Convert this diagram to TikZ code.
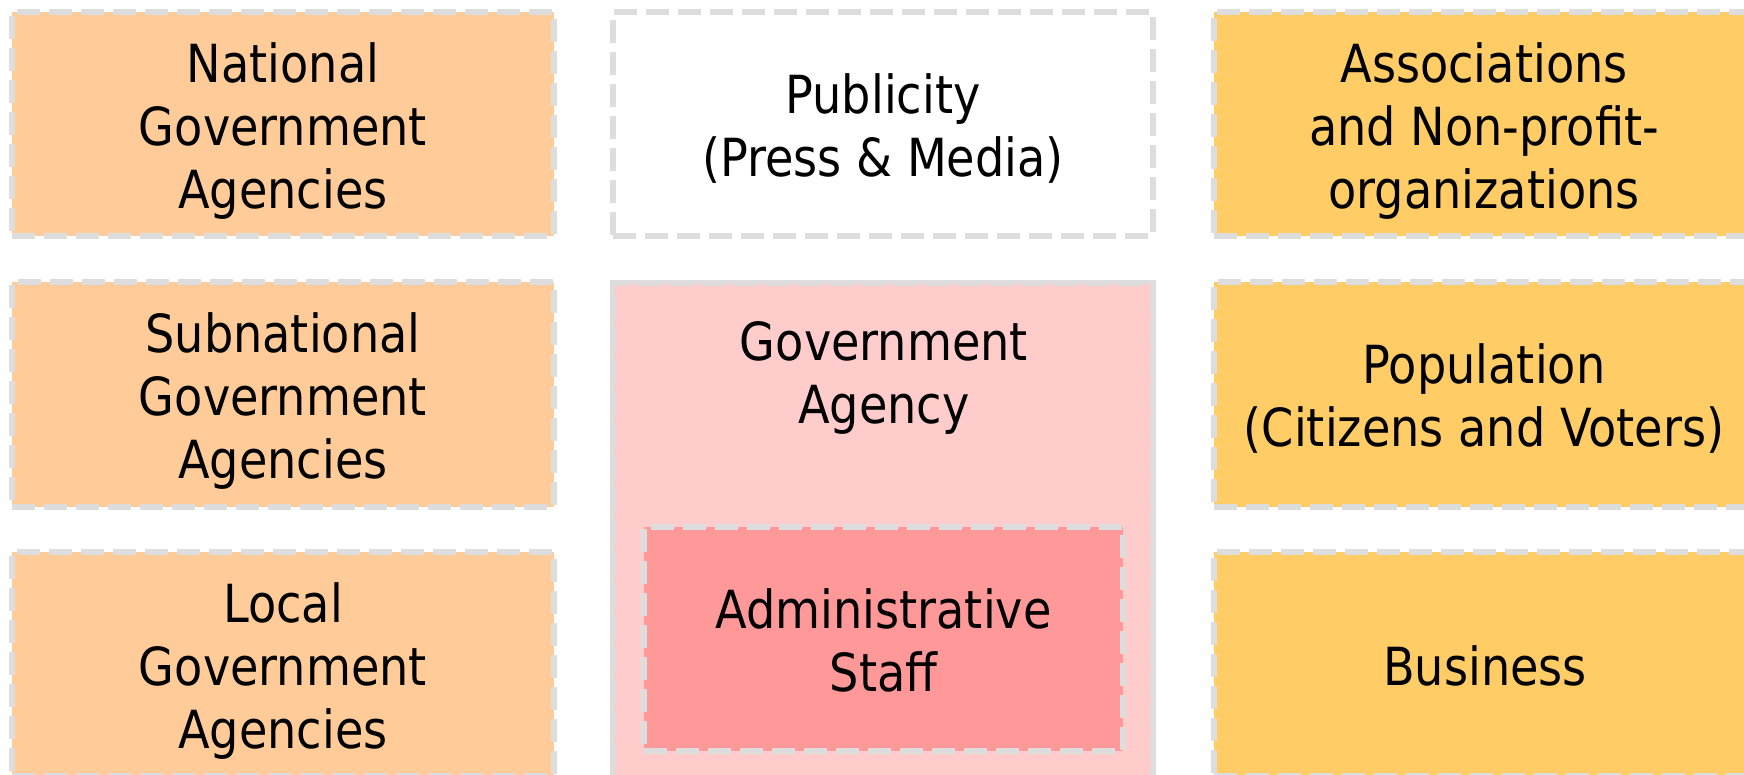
\documentclass[tikz,border=0pt]{standalone}
\usepackage{fontspec}
\setmainfont[FakeStretch=0.88]{DejaVu Sans}
\definecolor{bordergray}{HTML}{DDDDDD}
\definecolor{peach}{HTML}{FFCC99}
\definecolor{gold}{HTML}{FFCC66}
\definecolor{lightpink}{HTML}{FFCCCC}
\definecolor{salmon}{HTML}{FF9999}
\tikzset{
  box/.style={draw=bordergray, line width=6pt, dash pattern=on 23pt off 9pt,
    inner sep=0pt, outer sep=0pt},
  solidbox/.style={draw=bordergray, line width=6pt, inner sep=0pt, outer sep=0pt},
  lbl/.style={font=\fontsize{52.5}{63}\selectfont, align=center, inner sep=0pt,
    anchor=north, text=black},
}
\begin{document}
\begin{tikzpicture}[x=1pt,y=-1pt]
\useasboundingbox (0,0) rectangle (1744,774);
\clip (0,0) rectangle (1744,774);
\fill[white] (0,0) rectangle (1744,774);
% left column
\node[box, fill=peach, minimum width=542pt, minimum height=224pt] (nat) at (283,124) {};
\node[box, fill=peach, minimum width=542pt, minimum height=225pt] (sub) at (283,394.5) {};
\node[box, fill=peach, minimum width=542pt, minimum height=224pt] (loc) at (283,664) {};
% middle column
\node[box, fill=white, minimum width=540pt, minimum height=224pt] (pub) at (883,124) {};
\node[solidbox, fill=lightpink, minimum width=540pt, minimum height=507pt] (gov) at (883,536) {};
\draw[lightpink, line width=2.5pt, dash pattern=on 8pt off 24pt]
  ([shift={(3,3)}]gov.north west) rectangle ([shift={(-3,-3)}]gov.south east);
\node[box, fill=salmon, minimum width=479pt, minimum height=224pt] (adm) at (883.5,639) {};
% right column
\node[box, fill=gold, minimum width=541pt, minimum height=224pt] (asc) at (1484,124) {};
\node[box, fill=gold, minimum width=541pt, minimum height=225pt] (pop) at (1484,394.5) {};
\node[box, fill=gold, minimum width=541pt, minimum height=224pt] (bus) at (1484,664) {};
% labels
\node[lbl] (natt) at (283,37.9) {\strut National\\\strut Government\\\strut Agencies};
\node[lbl] (subt) at (283,307.9) {\strut Subnational\\\strut Government\\\strut Agencies};
\node[lbl] (loct) at (283,577.9) {\strut Local\\\strut Government\\\strut Agencies};
\node[lbl] (pubt) at (883,68.9) {\strut Publicity\\\strut (Press \& Media)};
\node[lbl] (govt) at (884,315.9) {\strut Government\\\strut Agency};
\node[lbl] (admt) at (883.5,583.9) {\strut Administrative\\\strut Staff};
\node[lbl] (asct) at (1484,37.9) {\strut Associations\\\strut and Non-profit-\\\strut organizations};
\node[lbl] (popt) at (1484,338.9) {\strut Population\\\strut (Citizens and Voters)};
\node[lbl] (bust) at (1485,640.9) {\strut Business};
\end{tikzpicture}
\end{document}
